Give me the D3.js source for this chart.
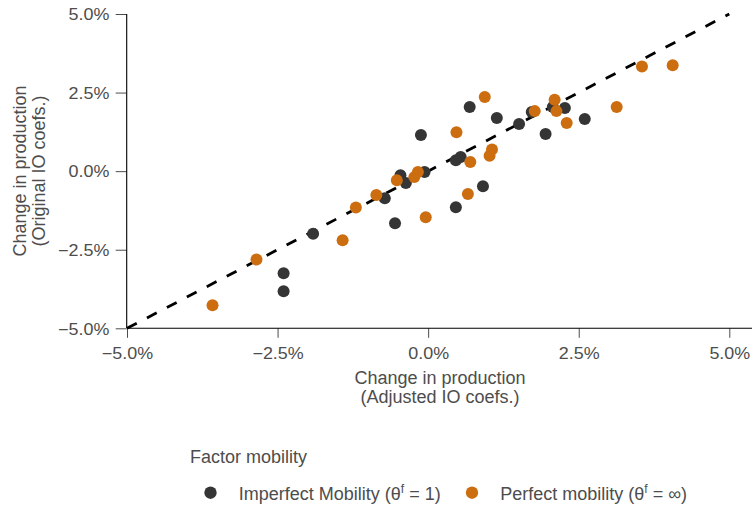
<!DOCTYPE html>
<html><head><meta charset="utf-8">
<script src="https://cdn.jsdelivr.net/npm/d3@7"></script>
<style>body{margin:0;background:#fff}svg{display:block;font-family:"Liberation Sans",Arial,sans-serif}</style>
</head><body>
<svg id="c" width="752" height="508"></svg>
<script>
const tickValues = [-5, -2.5, 0, 2.5, 5];
const tickLabels = ["\u22125.0%", "\u22122.5%", "0.0%", "2.5%", "5.0%"];
const imperfectX = [-2.40,-2.40,-1.91,-0.72,-0.55,-0.46,-0.37,-0.12,-0.06,0.46,0.54,0.46,0.91,0.69,1.14,1.51,1.72,2.07,2.27,1.95,2.60];
const imperfectY = [-3.25,-3.82,-1.99,-0.86,-1.66,-0.13,-0.38,1.15,-0.03,0.35,0.45,-1.15,-0.48,2.04,1.69,1.50,1.88,2.04,2.01,1.18,1.66];
const perfectX = [-3.58,-2.85,-1.42,-1.20,-0.86,-0.52,-0.23,-0.17,-0.04,0.47,0.70,0.66,0.94,1.02,1.06,1.77,2.10,2.13,2.30,3.13,3.55,4.06];
const perfectY = [-4.27,-2.81,-2.20,-1.16,-0.76,-0.29,-0.19,-0.03,-1.47,1.24,0.29,-0.73,2.36,0.49,0.69,1.91,2.27,1.91,1.53,2.04,3.33,3.37];
const seriesNames = ["Imperfect Mobility", "Perfect mobility"];
const seriesColors = ["#353535", "#cc6e10"];

const svg = d3.select("#c");
const x = d3.scaleLinear().domain([-5,5]).range([127,729.3]);
const y = d3.scaleLinear().domain([-5,5]).range([328.3,14]);
const txt = "#4d4d4d";
const sx = 1.12;

// axes
const gx = svg.append("g").attr("transform","translate(0,328.3)")
  .call(d3.axisBottom(x).tickValues(tickValues).tickFormat((d,i)=>tickLabels[i]).tickSize(9.5).tickPadding(5).tickSizeOuter(0));
gx.select(".domain").remove();
gx.selectAll(".tick line").attr("stroke","#4d4d4d").attr("stroke-width",1);
gx.selectAll(".tick text").attr("fill",txt).attr("font-size",16).attr("font-family","Liberation Sans, Arial, sans-serif")
  .attr("y",30.7).attr("dy",0).attr("transform",`scale(${sx},1)`);
svg.append("line").attr("x1",x(-5)).attr("x2",752).attr("y1",328.3).attr("y2",328.3).attr("stroke","#000").attr("stroke-width",1.1);

const gy = svg.append("g").attr("transform","translate(126.7,0)")
  .call(d3.axisLeft(y).tickValues(tickValues).tickFormat((d,i)=>tickLabels[i]).tickSize(11).tickPadding(6).tickSizeOuter(0));
gy.select(".domain").remove();
gy.selectAll(".tick line").attr("stroke","#4d4d4d").attr("stroke-width",1);
gy.selectAll(".tick text").attr("fill",txt).attr("font-size",16).attr("font-family","Liberation Sans, Arial, sans-serif")
  .attr("x",-17.4/sx).attr("dy","0.36em").attr("transform",`scale(${sx},1)`);
svg.append("line").attr("x1",126.7).attr("x2",126.7).attr("y1",y(5)).attr("y2",328.3).attr("stroke","#000").attr("stroke-width",1.1);

// dashed 45 degree line
svg.append("line").attr("x1",x(-5)).attr("y1",y(-5)).attr("x2",x(5)).attr("y2",y(5))
  .attr("stroke","#000").attr("stroke-width",2.8).attr("stroke-dasharray","11,11.5");

// points
const imp = imperfectX.map((v,i)=>({x:v,y:imperfectY[i]}));
const per = perfectX.map((v,i)=>({x:v,y:perfectY[i]}));
svg.append("g").selectAll("circle").data(imp).join("circle")
  .attr("cx",d=>x(d.x)).attr("cy",d=>y(d.y)).attr("r",6).attr("fill",seriesColors[0]);
svg.append("g").selectAll("circle").data(per).join("circle")
  .attr("cx",d=>x(d.x)).attr("cy",d=>y(d.y)).attr("r",6).attr("fill",seriesColors[1]);

// axis titles
const xt = svg.append("text").attr("text-anchor","middle").attr("fill",txt).attr("font-size",18);
xt.append("tspan").attr("x",440).attr("y",383.5).text("Change in production");
xt.append("tspan").attr("x",440).attr("y",402.5).text("(Adjusted IO coefs.)");
const yt = svg.append("text").attr("text-anchor","middle").attr("fill",txt).attr("font-size",18)
  .attr("transform","translate(0,171) rotate(-90)");
yt.append("tspan").attr("x",0).attr("y",26).text("Change in production");
yt.append("tspan").attr("x",0).attr("y",45).text("(Original IO coefs.)");

// legend
svg.append("text").attr("x",190).attr("y",463).attr("fill",txt).attr("font-size",18).text("Factor mobility");
const legX = [210.5, 472];
const legSym = ["1", "\u221e"];
seriesNames.forEach((n,i)=>{
  svg.append("circle").attr("cx",legX[i]).attr("cy",492.7).attr("r",6.2).attr("fill",seriesColors[i]);
  const t = svg.append("text").attr("x",legX[i]+28.3).attr("y",500).attr("fill",txt).attr("font-size",18);
  t.append("tspan").text(n+" (\u03b8");
  t.append("tspan").attr("dy",-7).attr("font-size",12).text("f");
  t.append("tspan").attr("dy",7).text(" = "+legSym[i]+")");
});
</script>
</body></html>
